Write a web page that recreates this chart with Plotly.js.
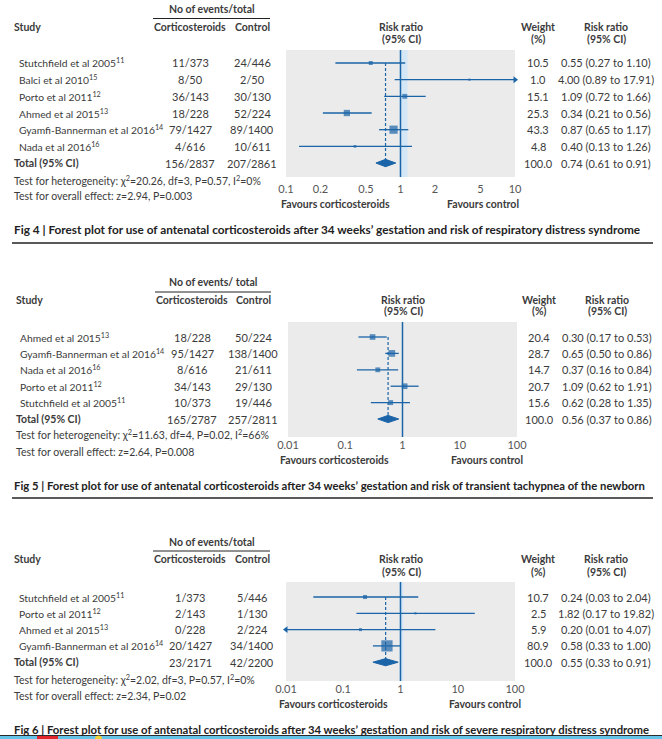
<!DOCTYPE html>
<html><head><meta charset="utf-8">
<script src="https://cdn.plot.ly/plotly-3.0.1.min.js"></script>
<style>html,body{margin:0;padding:0;background:#fff}</style>
</head><body><div id="chart" style="width:662px;height:739px"></div>
<script>
// ---------- DATA ----------
// Fig 4
const f4Studies = ['Stutchfield et al 2005<sup>11</sup>','Balci et al 2010<sup>15</sup>','Porto et al 2011<sup>12</sup>','Ahmed et al 2015<sup>13</sup>','Gyamfi-Bannerman et al 2016<sup>14</sup>','Nada et al 2016<sup>16</sup>'];
const f4Steroid = ['11/373','8/50','36/143','18/228','79/1427','4/616'];
const f4Control = ['24/446','2/50','30/130','52/224','89/1400','10/611'];
const f4Weight = [10.5,1.0,15.1,25.3,43.3,4.8];
const f4RR = [0.55,4.00,1.09,0.34,0.87,0.40];
const f4Lo = [0.27,0.89,0.72,0.21,0.65,0.13];
const f4Hi = [1.10,17.91,1.66,0.56,1.17,1.26];
const f4TotalCounts = ['156/2837','207/2861'];
const f4TotalRR = [0.74,0.61,0.91];
const f4Het = 'Test for heterogeneity: χ<sup>2</sup>=20.26, df=3, P=0.57, I<sup>2</sup>=0%';
const f4Overall = 'Test for overall effect: z=2.94, P=0.003';
const f4TickVals = [0.1,0.2,0.5,1,2,5,10];
const f4TickText = ['0.1','0.2','0.5','1','2','5','10'];
const f4Caption = 'Fig 4 | Forest plot for use of antenatal corticosteroids after 34 weeks’ gestation and risk of respiratory distress syndrome';

// Fig 5
const f5Studies = ['Ahmed et al 2015<sup>13</sup>','Gyamfi-Bannerman et al 2016<sup>14</sup>','Nada et al 2016<sup>16</sup>','Porto et al 2011<sup>12</sup>','Stutchfield et al 2005<sup>11</sup>'];
const f5Steroid = ['18/228','95/1427','8/616','34/143','10/373'];
const f5Control = ['50/224','138/1400','21/611','29/130','19/446'];
const f5Weight = [20.4,28.7,14.7,20.7,15.6];
const f5RR = [0.30,0.65,0.37,1.09,0.62];
const f5Lo = [0.17,0.50,0.16,0.62,0.28];
const f5Hi = [0.53,0.86,0.84,1.91,1.35];
const f5TotalCounts = ['165/2787','257/2811'];
const f5TotalRR = [0.56,0.37,0.86];
const f5Het = 'Test for heterogeneity: χ<sup>2</sup>=11.63, df=4, P=0.02, I<sup>2</sup>=66%';
const f5Overall = 'Test for overall effect: z=2.64, P=0.008';
const f5TickVals = [0.01,0.1,1,10,100];
const f5TickText = ['0.01','0.1','1','10','100'];
const f5Caption = 'Fig 5 | Forest plot for use of antenatal corticosteroids after 34 weeks’ gestation and risk of transient tachypnea of the newborn';

// Fig 6
const f6Studies = ['Stutchfield et al 2005<sup>11</sup>','Porto et al 2011<sup>12</sup>','Ahmed et al 2015<sup>13</sup>','Gyamfi-Bannerman et al 2016<sup>14</sup>'];
const f6Steroid = ['1/373','2/143','0/228','20/1427'];
const f6Control = ['5/446','1/130','2/224','34/1400'];
const f6Weight = [10.7,2.5,5.9,80.9];
const f6RR = [0.24,1.82,0.20,0.58];
const f6Lo = [0.03,0.17,0.01,0.33];
const f6Hi = [2.04,19.82,4.07,1.00];
const f6TotalCounts = ['23/2171','42/2200'];
const f6TotalRR = [0.55,0.33,0.91];
const f6Het = 'Test for heterogeneity: χ<sup>2</sup>=2.02, df=3, P=0.57, I<sup>2</sup>=0%';
const f6Overall = 'Test for overall effect: z=2.34, P=0.02';
const f6TickVals = [0.01,0.1,1,10,100];
const f6TickText = ['0.01','0.1','1','10','100'];
const f6Caption = 'Fig 6 | Forest plot for use of antenatal corticosteroids after 34 weeks’ gestation and risk of severe respiratory distress syndrome';

// ---------- DRAWING ----------
const W = 662, H = 739;
const px = x => x / W, py = y => 1 - y / H;
const BLUE = '#1b64a7', TXT = '#3b3b3b', STRIP = '#d3e7f6';
const FONT = 'Lato, Roboto, sans-serif';
const FS = 11, FSL = 10.3, FSB = 10.5, FSH = 10.5;

const traces = [], annotations = [], shapes = [];

function ann(x, y, yref, text, xanchor, size, color) {
  annotations.push({
    x: px(x), xref: 'paper', y: yref === 'paper' ? py(y) : y, yref: yref,
    text: text, showarrow: false, xanchor: xanchor || 'left', yanchor: 'middle',
    font: { family: FONT, size: size || FS, color: color || TXT }
  });
}

function panel(k, d, g) {
  const sfx = k === 1 ? '' : String(k);
  const xa = 'x' + sfx, ya = 'y' + sfx;
  const n = d.studies.length;
  const vmin = Math.pow(10, g.range[0]), vmax = Math.pow(10, g.range[1]);
  const yTop = (g.top - g.row0) / g.step, yBot = (g.bottom - g.row0) / g.step;

  layout['xaxis' + sfx] = {
    type: 'log', range: g.range, domain: [px(g.left), px(g.right)], anchor: ya,
    tickvals: d.tickVals, ticktext: d.tickText, showgrid: false, zeroline: false,
    showline: false, ticks: '', ticklabelstandoff: g.standoff,
    tickfont: { family: FONT, size: 11, color: '#555' }, fixedrange: true
  };
  layout['yaxis' + sfx] = {
    range: [yBot, yTop], domain: [py(g.bottom), py(g.top)], anchor: xa,
    visible: false, fixedrange: true
  };

  if (g.strip) shapes.push({ type: 'rect', xref: xa, yref: ya + ' domain', x0: g.strip[0], x1: g.strip[1], y0: 0, y1: 1, fillcolor: STRIP, line: { width: 0 }, layer: 'below' });
  shapes.push({ type: 'line', xref: xa, yref: ya + ' domain', x0: 1, x1: 1, y0: 0, y1: 1, line: { color: BLUE, width: 1.5 } });

  const cx = [], cy = [], arrR = [], arrL = [];
  d.rr.forEach((v, i) => {
    const lo = Math.max(d.lo[i], vmin), hi = Math.min(d.hi[i], vmax);
    cx.push(lo, hi, null); cy.push(i, i, null);
    if (d.hi[i] >= vmax) arrR.push(i);
    if (d.lo[i] <= vmin) arrL.push(i);
  });
  traces.push({ type: 'scatter', mode: 'lines', x: cx, y: cy, xaxis: xa, yaxis: ya, line: { color: BLUE, width: 1.3 }, hoverinfo: 'skip' });
  if (arrR.length) traces.push({ type: 'scatter', mode: 'markers', x: arrR.map(() => vmax), y: arrR, xaxis: xa, yaxis: ya, cliponaxis: false, marker: { symbol: 'triangle-right', size: 6, color: BLUE }, hoverinfo: 'skip' });
  if (arrL.length) traces.push({ type: 'scatter', mode: 'markers', x: arrL.map(() => vmin), y: arrL, xaxis: xa, yaxis: ya, cliponaxis: false, marker: { symbol: 'triangle-left', size: 6, color: BLUE }, hoverinfo: 'skip' });

  const t = d.totalRR;
  traces.push({ type: 'scatter', mode: 'lines', x: [t[0], t[0]], y: [0, n - 0.2], xaxis: xa, yaxis: ya, line: { color: BLUE, width: 1.2, dash: '3px,2px' }, hoverinfo: 'skip' });

  traces.push({ type: 'scatter', mode: 'markers', x: d.rr, y: d.rr.map((_, i) => i), xaxis: xa, yaxis: ya,
    marker: { symbol: 'square', color: BLUE, size: d.weight.map(w => Math.max(2.2, 1.25 * Math.sqrt(w))), line: { width: 0 } }, hoverinfo: 'skip' });

  const h = g.diam;
  traces.push({ type: 'scatter', mode: 'lines', x: [t[1], t[0], t[2], t[0], t[1]], y: [n, n - h, n, n + h, n], xaxis: xa, yaxis: ya,
    fill: 'toself', fillcolor: BLUE, line: { color: BLUE, width: 1 }, hoverinfo: 'skip' });

  // header
  ann(g.netX, g.netY, 'paper', '<b>' + g.netText + '</b>', 'center', FSH);
  shapes.push({ type: 'line', xref: 'paper', yref: 'paper', x0: px(g.ulX[0]), x1: px(g.ulX[1]), y0: py(g.ulY), y1: py(g.ulY), line: { color: '#222', width: 1 } });
  ann(g.totalX, g.headY, 'paper', '<b>Study</b>', 'left', FSH);
  ann(g.stX, g.headY, 'paper', '<b>Corticosteroids</b>', 'center', FSH);
  ann(g.ctX, g.headY, 'paper', '<b>Control</b>', 'center', FSH);
  ann(g.rhX, g.headY, 'paper', '<b>Risk ratio</b>', 'center', FSH);
  ann(g.rhX, g.head2Y, 'paper', '<b>(95% CI)</b>', 'center', FSH);
  ann(g.wX, g.headY, 'paper', '<b>Weight</b>', 'center', FSH);
  ann(g.wX, g.head2Y, 'paper', '<b>(%)</b>', 'center', FSH);
  ann(g.rrX, g.headY, 'paper', '<b>Risk ratio</b>', 'center', FSH);
  ann(g.rrX, g.head2Y, 'paper', '<b>(95% CI)</b>', 'center', FSH);

  const f2 = v => v.toFixed(2);
  d.studies.forEach((s, i) => {
    ann(g.studyX, i, ya, s, 'left', FSL);
    ann(g.stX, i, ya, d.steroid[i], 'center');
    ann(g.ctX, i, ya, d.control[i], 'center');
    ann(g.wX, i, ya, d.weight[i].toFixed(1), 'center');
    ann(g.rrX, i, ya, f2(d.rr[i]) + ' (' + f2(d.lo[i]) + ' to ' + f2(d.hi[i]) + ')', 'center');
  });
  ann(g.totalX, n, ya, '<b>Total (95% CI)</b>', 'left', FSB);
  ann(g.stX, n, ya, d.totalCounts[0], 'center');
  ann(g.ctX, n, ya, d.totalCounts[1], 'center');
  ann(g.wX, n, ya, (100).toFixed(1), 'center');
  ann(g.rrX, n, ya, f2(t[0]) + ' (' + f2(t[1]) + ' to ' + f2(t[2]) + ')', 'center');

  ann(g.totalX, g.hetY, 'paper', d.het, 'left', 10.5);
  ann(g.totalX, g.ovY, 'paper', d.overall, 'left', 10.5);
  ann(g.favL, g.favY, 'paper', '<b>Favours corticosteroids</b>', 'left', FSB);
  ann(g.favR, g.favY, 'paper', '<b>Favours control</b>', 'right', FSB);
  ann(12, g.capY, 'paper', '<b>' + d.caption + '</b>', 'left', g.capSize, '#222');
  if (g.sepY) shapes.push({ type: 'line', xref: 'paper', yref: 'paper', x0: px(12), x1: px(653), y0: py(g.sepY), y1: py(g.sepY), line: { color: '#222', width: 1.3 } });
}

const layout = {
  width: W, height: H, margin: { l: 0, r: 0, t: 0, b: 0 },
  paper_bgcolor: '#fff', plot_bgcolor: '#ebebeb', showlegend: false,
  font: { family: FONT, size: FS, color: TXT }
};

panel(1, { studies: f4Studies, steroid: f4Steroid, control: f4Control, weight: f4Weight, rr: f4RR, lo: f4Lo, hi: f4Hi,
  totalCounts: f4TotalCounts, totalRR: f4TotalRR, het: f4Het, overall: f4Overall, tickVals: f4TickVals, tickText: f4TickText, caption: f4Caption },
  { range: [-1, 1], left: 286, right: 515, top: 50, bottom: 177, row0: 63, step: 16.67, standoff: 4, strip: [0.98, 1.15], diam: 0.22,
    netText: 'No of events/total', netX: 212, netY: 9, ulX: [153, 270], ulY: 18.5, headY: 27, head2Y: 39,
    studyX: 17, totalX: 12, stX: 190, ctX: 252, rhX: 401, wX: 538, rrX: 606,
    hetY: 180, ovY: 196, favL: 279, favR: 521, favY: 204, capY: 229, capSize: 11.8, sepY: 243 });

panel(2, { studies: f5Studies, steroid: f5Steroid, control: f5Control, weight: f5Weight, rr: f5RR, lo: f5Lo, hi: f5Hi,
  totalCounts: f5TotalCounts, totalRR: f5TotalRR, het: f5Het, overall: f5Overall, tickVals: f5TickVals, tickText: f5TickText, caption: f5Caption },
  { range: [-2, 2], left: 288, right: 517, top: 322, bottom: 437, row0: 337, step: 16.4, standoff: 0, strip: null, diam: 0.22,
    netText: 'No of events/ total', netX: 213, netY: 282, ulX: [155, 271], ulY: 292, headY: 300, head2Y: 311,
    studyX: 18, totalX: 14, stX: 192, ctX: 253, rhX: 403, wX: 539, rrX: 607,
    hetY: 435, ovY: 452, favL: 278, favR: 525, favY: 460, capY: 485, capSize: 11.3, sepY: 498 });

panel(3, { studies: f6Studies, steroid: f6Steroid, control: f6Control, weight: f6Weight, rr: f6RR, lo: f6Lo, hi: f6Hi,
  totalCounts: f6TotalCounts, totalRR: f6TotalRR, het: f6Het, overall: f6Overall, tickVals: f6TickVals, tickText: f6TickText, caption: f6Caption },
  { range: [-2, 2], left: 286, right: 515, top: 582, bottom: 681, row0: 597, step: 16.3, standoff: 0, strip: [0.96, 1.12], diam: 0.22,
    netText: 'No of events/total', netX: 212, netY: 542, ulX: [153, 270], ulY: 551, headY: 559, head2Y: 572,
    studyX: 17, totalX: 12, stX: 190, ctX: 252, rhX: 401, wX: 538, rrX: 606,
    hetY: 679, ovY: 696, favL: 277, favR: 523, favY: 704, capY: 729, capSize: 11.3, sepY: null });

// bottom browser strip
shapes.push({ type: 'rect', xref: 'paper', yref: 'paper', x0: 0, x1: 1, y0: py(739), y1: py(735.5), fillcolor: '#63c3e8', line: { width: 0 } });
shapes.push({ type: 'line', xref: 'paper', yref: 'paper', x0: 0, x1: 1, y0: py(735.5), y1: py(735.5), line: { color: '#2a2a2a', width: 1 } });
shapes.push({ type: 'rect', xref: 'paper', yref: 'paper', x0: px(37), x1: px(58), y0: py(739), y1: py(736), fillcolor: '#e0262b', line: { width: 0 } });
shapes.push({ type: 'circle', xref: 'paper', yref: 'paper', x0: px(95), x1: px(102), y0: py(742), y1: py(735.5), fillcolor: '#f1d43a', line: { width: 0 } });

Plotly.newPlot('chart', traces, Object.assign(layout, { annotations: annotations, shapes: shapes }), { staticPlot: true, displayModeBar: false });
</script>
</body></html>
